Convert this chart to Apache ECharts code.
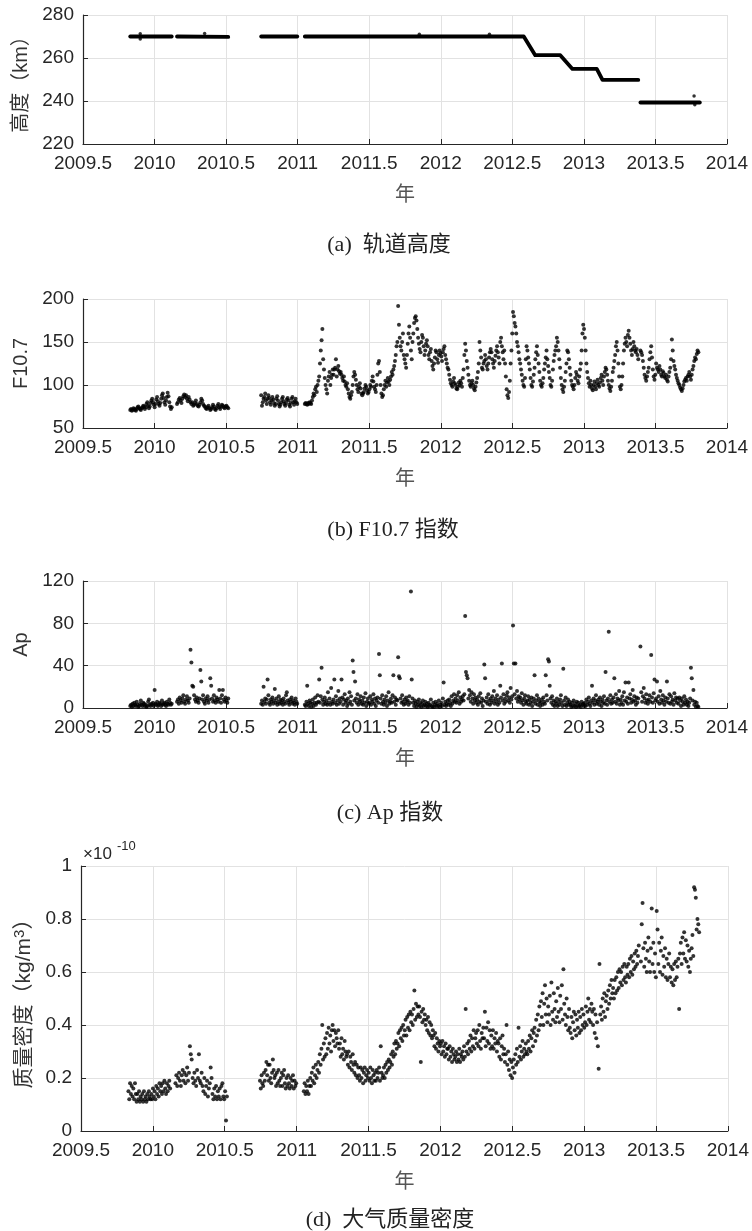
<!DOCTYPE html>
<html><head><meta charset="utf-8">
<script src="https://cdn.jsdelivr.net/npm/echarts@6/dist/echarts.min.js"></script>
<style>html,body{margin:0;padding:0;background:#fff}#c{width:752px;height:1231px}</style>
</head><body><div id="c"></div>
<script>
// ---------- DATA ----------
const xTickMin = 2009.5, xTickMax = 2014, xTickStep = 0.5;
const segStarts = [2009.830, 2010.157, 2010.745, 2011.050, 2013.395];
const segEnds   = [2010.120, 2010.515, 2010.997, 2013.380, 2013.800];

// (a) orbit altitude (km): [year, km] knots of each continuous stretch
const altitudeSegments = [
  [[2009.830,270.0],[2010.120,270.0]],
  [[2010.157,270.0],[2010.515,269.8]],
  [[2010.745,270.0],[2010.997,270.0]],
  [[2011.050,270.0],[2012.580,270.0],[2012.660,261.3],[2012.835,261.3],[2012.920,254.9],[2013.090,254.9],[2013.130,249.8],[2013.380,249.8]],
  [[2013.395,239.3],[2013.810,239.3]]
];
const altitudeOutliers = [[2009.90,271.3],[2009.90,268.8],[2010.35,271.4],[2011.85,271.0],[2012.34,271.0],[2013.77,242.3],[2013.775,238.3]];

// (b) F10.7 index, per segment
const f107 = [
 [71,72,70,71,73,72,71,70,72, 74,75,73,72,71,73,74,76,75, 72,74,78,80,76,73,75,79,82, 84,80,77,74,78,83,86,81,78, 76,79,84,88,90,85,80,77,82, 86,91,87,80,75,72,74],
 [78,80,83,85,82,79,84,87, 89,86,88,84,81,86,83,80, 78,80,76,77,79,82,78,76, 75,77,80,84,82,78,76,75, 73,72,74,76,73,71,72,74, 77,75,72,71,73,76,78,74, 72,75,77,76,74,73,75,76,74,73],
 [88,76,80,84,86,90,82,78,84,88,85,80,77,82,86,83,79,76,78,84,87,82,78,75,77,80,84,86,81,78,76,79,83,85,82,77,75,79,84,86,80,77,81,84,80,78],
 [78,79,78,77,79,78,80,79,78,
  82,86,90,88,95,98,92,100,105,
  110,125,140,152,165,130,118,108,100,
  95,90,105,110,115,100,108,112,118,
  112,118,120,130,110,118,122,116,113,
  115,112,108,105,110,104,100,98,102,
  95,90,86,84,88,92,100,110,115,
  112,106,100,95,92,98,102,96,90,
  88,90,92,96,100,98,94,90,92,
  95,100,98,105,110,104,98,95,92,
  100,112,125,128,115,100,90,86,88,
  95,100,105,98,103,108,104,100,106,
  110,115,112,118,122,128,135,145,150,
  192,170,155,145,140,150,160,135,130,
  125,120,135,148,160,168,155,140,130,
  150,160,172,178,180,175,165,155,148,
  142,138,150,158,155,145,135,140,148,
  152,145,135,130,138,142,128,122,118,
  125,132,140,138,130,126,135,140,137,
  133,128,138,142,145,135,130,125,120,
  118,112,106,102,100,98,104,108,102,
  100,96,95,98,103,100,105,102,98,
  108,118,135,148,140,128,120,112,105,
  100,98,102,105,100,96,94,98,103,
  108,115,125,150,140,132,120,118,125,
  128,135,130,122,118,125,132,138,142,
  138,130,125,120,128,134,140,145,138,
  132,125,150,155,145,138,130,140,125,
  110,95,88,85,92,105,125,140,160,
  185,180,172,168,160,150,145,138,130,
  125,118,112,105,100,98,108,130,145,
  140,132,125,118,108,100,98,104,112,
  120,130,138,145,135,125,115,105,100,
  98,102,108,118,125,132,140,130,122,
  115,108,100,98,105,118,128,135,140,
  145,155,150,140,130,120,108,100,95,
  92,98,105,115,125,140,138,130,120,
  112,105,100,98,95,100,108,115,112,
  105,102,110,118,125,140,160,170,165,
  155,140,125,115,108,102,98,105,100,
  96,94,100,104,98,95,102,106,100,
  98,103,108,112,105,100,110,115,120,
  118,112,105,100,96,93,98,105,115,
  120,128,135,145,150,140,125,110,98,
  95,100,110,125,140,148,155,150,145,
  158,163,155,148,140,135,142,150,145,
  140,138,142,135,130],
 [140,138,135,128,120,112,108,105,110,115,
  120,130,138,145,132,118,110,106,112,
  125,120,118,115,122,118,112,110,116,
  114,110,108,112,106,104,110,115,120,
  130,153,140,128,122,118,112,108,105,
  102,100,97,95,93,96,100,104,106,
  108,105,110,112,115,110,106,112,118,
  122,128,132,130,136,140,138]
];

// (c) Ap index, per segment
const ap = [
 [2,3,1,4,2,5,3,2,6,3,1,2,4,7,3,2,5,4,2,3,1,2,6,8,3,2,4,3,5,2,17,4,3,6,2,3,5,4,2,7,3,4,5,3,2,6,4,3,8,5,3,4],
 [6,8,4,10,7,5,9,12,6,4,8,11,7,5,9, 55,43,21,20,12,8, 6,10,7,5,9, 36,25, 8,12,6,4,9,7,11,5,8, 28,21, 9,6,12,7,5,10,8,6, 17,9,5,12,17,8,6,10,7,5,9],
 [4,7,3,20,6,9,4,8,27,12,5,3,8,6,10,4,7,18,5,9,3,6,11,4,8,5,7,3,9,6,4,12,15,7,5,3,8,6,10,4,7,5,3,9,6,4],
 [3,2,6,21,4,2,7,5,1,
  4,8,2,5,10,3,5,12,6,
  27,5,11,38,8,3,6,10,4,
  7,3,15,5,9,3,19,6,4,
  8,27,5,11,3,7,16,4,9,
  6,27,10,3,8,13,5,7,2,
  9,4,15,6,11,3,45,34,7,
  25,9,5,13,3,8,6,11,4,
  7,3,10,5,14,2,6,9,4,
  5,11,3,8,6,13,4,9,2,
  7,10,5,51,31,9,4,12,6,
  3,8,5,11,2,7,15,4,6,
  9,5,12,31,6,10,3,8,7,
  48,30,28,9,5,12,6,3,8,
  4,10,6,7,3,11,5,110,27,
  9,5,2,7,4,1,6,3,8,
  2,5,1,4,7,2,3,6,2,
  4,1,5,2,3,8,2,1,5,
  1,3,6,2,4,2,7,1,3,
  5,2,9,24,3,6,2,4,7,
  3,8,5,2,11,4,7,13,6,
  9,5,12,7,15,4,10,6,8,
  11,7,13,87,34,31,28,9,17,
  12,6,15,9,4,13,7,10,5,
  8,3,11,6,14,5,9,2,7,
  41,28,6,10,4,13,7,3,9,
  5,11,7,16,4,9,6,12,3,
  8,5,21,10,42,7,13,4,9,
  6,12,15,7,10,5,19,8,11,
  78,42,13,42,9,16,6,11,8,
  10,5,14,7,3,9,12,6,4,
  7,11,3,8,5,10,2,6,9,
  31,4,7,12,3,9,6,2,5,
  8,3,10,6,4,31,12,7,46,
  44,21,9,5,11,3,7,2,6,
  4,9,2,6,3,8,12,5,2,
  37,7,3,10,2,5,8,3,6,
  3,1,5,2,7,2,4,1,6,
  2,5,2,3,1,6,3,4,2,
  5,2,8,3,6,10,4,2,7,
  21,5,9,3,7,12,4,6,8,
  3,10,6,2,8,5,11,4,34,
  7,3,9,72,6,12,4,8,5,
  10,28,6,13,4,9,7,16,3,
  8,5,11,3,15,7,24,6,10,
  4,24,9,13,5,8,17,6,11,
  7,3,10,5,9],
 [58,15,6,11,19,9,5,13,7,4,
  8,12,6,50,10,5,14,27,7,
  9,25,6,11,4,16,8,5,12,
  7,3,10,6,25,9,5,13,4,
  11,6,8,3,14,7,10,5,9,
  4,10,7,2,9,6,3,11,5,
  8,3,6,2,5,9,38,28,7,
  17,3,6,1,5,2,1]
];

// (d) mass density (x1e-10 kg/m^3), per segment
const density = [
 [0.15,0.12,0.18,0.14,0.17,0.13,0.16,0.12,0.18,0.14,
  0.11,0.14,0.12,0.15,0.11,0.13,0.12,0.14,0.11,0.15,0.12,0.13,0.11,0.14,0.12,0.15,0.13,0.12,
  0.14,0.12,0.16,0.13,0.15,0.12,0.17,0.14,0.16,0.13,0.18,0.15,0.17,0.14,0.18,0.15,0.19,0.16,0.14,0.18,0.15,0.17,0.19,0.16],
 [0.18,0.21,0.17,0.20,0.22,0.19,0.17,0.21,0.23,0.19,
  0.22,0.18,0.21,0.24,0.19,0.22,0.32,0.29,0.27,0.20,
  0.18,0.22,0.19,0.17,0.23,0.20,0.29,0.19,0.18,0.22,
  0.17,0.15,0.20,0.14,0.17,0.19,0.13,0.16,0.18,0.24,
  0.20,0.14,0.12,0.16,0.13,0.17,0.12,0.15,0.13,0.16,
  0.12,0.17,0.18,0.13,0.12,0.15,0.04,0.13],
 [0.19,0.16,0.21,0.18,0.17,0.22,0.19,
  0.23,0.26,0.21,0.25,0.19,0.25,0.20,0.18,0.22,0.27,0.23,0.20,
  0.21,0.17,0.22,0.18,0.23,0.19,0.17,0.20,0.22,0.17,0.21,0.23,0.18,0.16,
  0.20,0.17,0.21,0.18,0.16,0.20,0.17,0.19,0.21,0.16,0.19,0.17,0.18],
 [0.15,0.18,0.14,0.17,0.15,0.19,0.14,0.17,0.20,
  0.17,0.22,0.19,0.24,0.18,0.21,0.25,0.20,0.23,
  0.26,0.22,0.29,0.25,0.31,0.40,0.27,0.33,0.28,
  0.35,0.29,0.37,0.31,0.39,0.33,0.36,0.30,0.38,
  0.40,0.34,0.38,0.32,0.37,0.35,0.33,0.38,0.31,
  0.33,0.28,0.35,0.29,0.31,0.27,0.34,0.30,0.28,
  0.29,0.25,0.30,0.24,0.28,0.26,0.23,0.29,0.25,
  0.22,0.26,0.21,0.25,0.20,0.24,0.21,0.19,0.24,
  0.20,0.23,0.18,0.22,0.24,0.19,0.21,0.23,0.20,
  0.22,0.19,0.24,0.20,0.18,0.23,0.21,0.19,0.22,
  0.19,0.23,0.20,0.22,0.24,0.19,0.32,0.22,0.20,
  0.21,0.24,0.20,0.25,0.22,0.26,0.23,0.27,0.24,
  0.26,0.29,0.25,0.30,0.28,0.33,0.29,0.34,0.31,
  0.33,0.37,0.32,0.38,0.35,0.39,0.34,0.40,0.36,
  0.38,0.42,0.36,0.43,0.39,0.44,0.38,0.45,0.41,
  0.44,0.40,0.46,0.53,0.42,0.48,0.43,0.47,0.44,
  0.47,0.43,0.26,0.45,0.41,0.46,0.42,0.44,0.40,
  0.42,0.38,0.43,0.37,0.41,0.36,0.40,0.35,0.38,
  0.36,0.32,0.37,0.31,0.35,0.33,0.30,0.34,0.32,
  0.33,0.29,0.34,0.30,0.32,0.28,0.33,0.29,0.31,
  0.31,0.27,0.32,0.28,0.30,0.26,0.31,0.29,0.27,
  0.28,0.30,0.26,0.29,0.27,0.31,0.26,0.29,0.28,
  0.30,0.27,0.32,0.28,0.46,0.30,0.33,0.29,0.34,
  0.31,0.36,0.30,0.35,0.32,0.38,0.31,0.35,0.37,
  0.33,0.38,0.32,0.40,0.34,0.31,0.37,0.35,0.39,
  0.35,0.45,0.32,0.39,0.34,0.41,0.33,0.38,0.31,
  0.36,0.32,0.38,0.31,0.35,0.33,0.37,0.30,0.34,
  0.33,0.28,0.35,0.27,0.32,0.36,0.29,0.31,0.26,
  0.29,0.40,0.25,0.30,0.23,0.27,0.21,0.26,0.20,
  0.24,0.27,0.22,0.29,0.25,0.31,0.26,0.39,0.28,
  0.32,0.27,0.30,0.34,0.28,0.31,0.29,0.33,0.30,
  0.29,0.34,0.31,0.36,0.30,0.35,0.38,0.32,0.37,
  0.39,0.34,0.42,0.36,0.44,0.38,0.47,0.40,0.49,
  0.43,0.52,0.40,0.48,0.55,0.44,0.50,0.41,0.47,
  0.44,0.51,0.40,0.56,0.45,0.42,0.52,0.46,0.41,
  0.49,0.43,0.54,0.45,0.41,0.51,0.46,0.55,0.42,
  0.61,0.48,0.44,0.40,0.50,0.43,0.38,0.46,0.39,
  0.37,0.43,0.35,0.41,0.45,0.38,0.44,0.36,0.42,
  0.39,0.45,0.37,0.43,0.38,0.46,0.40,0.44,0.39,
  0.41,0.47,0.40,0.45,0.50,0.42,0.46,0.41,0.48,
  0.45,0.40,0.46,0.37,0.44,0.35,0.41,0.32,0.235,
  0.63,0.44,0.47,0.42,0.50,0.45,0.52,0.43,0.49,
  0.51,0.46,0.53,0.48,0.55,0.50,0.57,0.52,0.54,
  0.50,0.57,0.52,0.58,0.53,0.60,0.54,0.61,0.56,
  0.60,0.55,0.62,0.57,0.63,0.58,0.56,0.62,0.59,
  0.63,0.58,0.65,0.60,0.66,0.59,0.64,0.61,0.67,
  0.62,0.68,0.63,0.66,0.70],
 [0.64,0.78,0.86,0.69,0.62,0.71,0.65,0.60,0.68,0.73,
  0.64,0.60,0.69,0.84,0.63,0.71,0.60,0.67,0.58,
  0.83,0.76,0.63,0.71,0.60,0.68,0.73,0.59,0.66,
  0.62,0.69,0.58,0.65,0.57,0.63,0.67,0.58,0.62,
  0.56,0.61,0.55,0.63,0.57,0.64,0.58,0.62,0.65,
  0.46,0.67,0.71,0.63,0.73,0.67,0.75,0.65,0.72,
  0.64,0.70,0.62,0.68,0.60,0.65,0.69,0.74,0.66,
  0.92,0.91,0.88,0.76,0.80,0.78,0.75]
];

// ---------- CHART ----------
function spread(segs) {
  const out = [];
  segs.forEach((vals, k) => {
    const a = segStarts[k], b = segEnds[k], n = vals.length;
    vals.forEach((v, i) => out.push([a + (b - a) * i / (n - 1), v]));
  });
  return out;
}

const AX = '#262626';
const NUMF = '"Liberation Sans", Arial, Helvetica, sans-serif';
const CJKF = '"Liberation Sans", "Noto Sans CJK SC", sans-serif';

const grids = [
  {left: 83, top: 15, width: 644, height: 129},
  {left: 83, top: 299, width: 644, height: 129},
  {left: 83, top: 581, width: 644, height: 127},
  {left: 81, top: 866, width: 647, height: 265}
];
const yDefs = [
  {min: 220, max: 280, interval: 20, name: '高度（km）', gap: 47, size: 20},
  {min: 50, max: 200, interval: 50, name: 'F10.7', gap: 47, size: 20},
  {min: 0, max: 120, interval: 40, name: 'Ap', gap: 47, size: 20},
  {min: 0, max: 1, interval: 0.2, name: '{a|质量密度（kg/m}{s|3}{a|）}', gap: 42, size: 21}
];

const xAxes = grids.map((g, i) => ({
  type: 'value', gridIndex: i, min: xTickMin, max: xTickMax, interval: xTickStep,
  axisLine: {show: true, onZero: false, lineStyle: {color: AX, width: 1.2}},
  axisTick: {show: true, inside: true, length: 5, lineStyle: {color: AX}},
  axisLabel: {color: AX, fontSize: 19, fontFamily: NUMF, margin: 10, formatter: v => String(v)},
  splitLine: {show: true, lineStyle: {color: '#e2e2e2', width: 1}},
  name: '年', nameLocation: 'middle', nameGap: 39,
  nameTextStyle: {color: '#555', fontSize: 20, fontFamily: '"Noto Sans CJK SC", sans-serif'}
}));
const yAxes = yDefs.map((d, i) => ({
  type: 'value', gridIndex: i, min: d.min, max: d.max, interval: d.interval,
  axisLine: {show: true, onZero: false, lineStyle: {color: AX, width: 1.2}},
  axisTick: {show: true, inside: true, length: 5, lineStyle: {color: AX}},
  axisLabel: {color: AX, fontSize: 19, fontFamily: NUMF, margin: 9,
    formatter: v => String(Math.round(v * 1000) / 1000)},
  splitLine: {show: true, lineStyle: {color: '#e2e2e2', width: 1}},
  name: d.name, nameLocation: 'middle', nameGap: d.gap, nameRotate: 90,
  nameTextStyle: {color: '#333', fontSize: d.size, fontFamily: CJKF,
    rich: {a: {fontSize: 21, fontFamily: CJKF, color: '#333'},
           s: {fontSize: 15, fontFamily: NUMF, color: '#333', verticalAlign: 'top', padding: [0, 0, 8, 0]}}}
}));

const series = [];
altitudeSegments.forEach(seg => series.push({
  type: 'line', xAxisIndex: 0, yAxisIndex: 0, data: seg, showSymbol: false,
  lineStyle: {color: '#000', width: 3.8, cap: 'round', join: 'round'}, silent: true
}));
series.push({type: 'scatter', xAxisIndex: 0, yAxisIndex: 0, data: altitudeOutliers,
  symbolSize: 3.5, itemStyle: {color: '#000'}, silent: true});
[f107, ap, density].forEach((segs, k) => series.push({
  type: 'scatter', xAxisIndex: k + 1, yAxisIndex: k + 1, data: spread(segs),
  symbolSize: 4, itemStyle: {color: '#000'}, silent: true
}));

const TITLEF = '"Liberation Serif", "Times New Roman", "Noto Sans CJK SC", serif';
const titles = [
  ['(a)  轨道高度', 389, 245],
  ['(b) F10.7 指数', 393, 530],
  ['(c) Ap 指数', 390, 813],
  ['(d)  大气质量密度', 390, 1220]
];
const graphic = titles.map(t => ({
  type: 'text', x: t[1], y: t[2],
  style: {text: t[0], fill: '#222', font: '22px ' + TITLEF, align: 'center', verticalAlign: 'middle'}
}));
graphic.push({type: 'text', x: 83, y: 854,
  style: {text: '×10', fill: AX, font: '17px ' + NUMF, align: 'left', verticalAlign: 'middle'}});
graphic.push({type: 'text', x: 117, y: 846,
  style: {text: '-10', fill: AX, font: '13px ' + NUMF, align: 'left', verticalAlign: 'middle'}});

const chart = echarts.init(document.getElementById('c'), null, {renderer: 'canvas'});
chart.setOption({
  animation: false, backgroundColor: '#fff',
  grid: grids, xAxis: xAxes, yAxis: yAxes, series: series, graphic: graphic
});
</script></body></html>
